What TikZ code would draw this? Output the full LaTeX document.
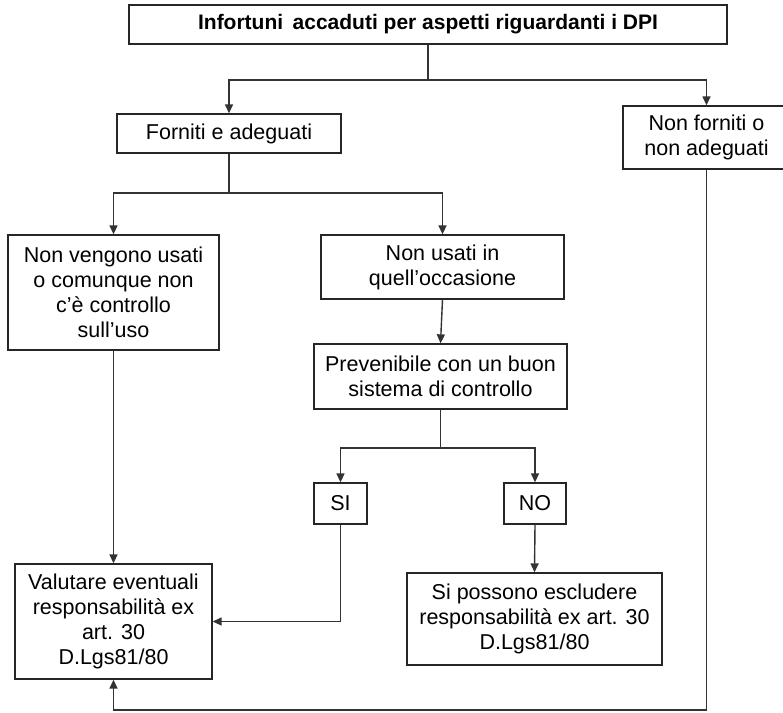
\documentclass[tikz,border=0pt]{standalone}
\usepackage{fontspec}
\setmainfont{Liberation Sans}
\usetikzlibrary{arrows.meta}

\tikzset{
  box/.style={draw=black!85, line width=1.3pt, fill=white, inner sep=0pt,
    align=center, font=\fontsize{21.5}{25}\selectfont},
  link/.style={draw=black!80, line width=1.4pt},
  arr/.style={link, -{Triangle[length=9pt,width=8pt]}}
}

\begin{document}
\begin{tikzpicture}[x=1pt, y=-1pt]
  \useasboundingbox (0,0) rectangle (783,712);

  % boxes
  \node[box, minimum width=598pt, minimum height=39pt,
        font=\fontsize{21}{25}\selectfont\bfseries]
    (title) at (428,24.5) {Infortuni\hspace{0.45em}accaduti per aspetti riguardanti i DPI};
  \node[box, minimum width=224pt, minimum height=39pt] (forn) at (229,133.5) {Forniti e adeguati};
  \node[box, minimum width=167pt, minimum height=63pt] (nonforn) at (706.5,137.5) {Non forniti o\\non adeguati};
  \node[box, minimum width=211pt, minimum height=115pt] (nonveng) at (113.5,292.5)
    {Non vengono usati\\o comunque non\\c’è controllo\\sull’uso};
  \node[box, minimum width=243pt, minimum height=64pt] (nonusati) at (442.5,267)
    {Non usati in\\quell’occasione};
  \node[box, minimum width=253pt, minimum height=65pt] (prev) at (440.5,376.5)
    {Prevenibile con un buon\\sistema di controllo};
  \node[box, minimum width=53pt, minimum height=41pt] (si) at (340.5,503.5) {SI};
  \node[box, minimum width=62pt, minimum height=41pt] (no) at (535,503.5) {NO};
  \node[box, minimum width=197pt, minimum height=115pt] (valut) at (113.5,621.5)
    {Valutare eventuali\\responsabilità ex\\art. 30\\D.Lgs81/80};
  \node[box, minimum width=255pt, minimum height=92pt] (sipos) at (534.5,619)
    {Si possono escludere\\responsabilità ex art. 30\\D.Lgs81/80};

  % junction points of the branching lines
  \coordinate (j1) at (428,80);
  \coordinate (j2) at (229,193);
  \coordinate (j3) at (440.5,448);
  \coordinate (j4) at (706.5,710);

  % connectors
  \draw[link] (title.south) -- (j1);
  \draw[arr] (j1) -| (forn.north);
  \draw[arr] (j1) -| (nonforn.north);

  \draw[link] (forn.south) -- (j2);
  \draw[arr] (j2) -| (nonveng.north);
  \draw[arr] (j2) -| (nonusati.north);

  \draw[arr] (nonusati.south) -- (prev.north);

  \draw[link] (prev.south) -- (j3);
  \draw[arr] (j3) -| (si.north);
  \draw[arr] (j3) -| (no.north);

  \draw[arr] (no.south) -- (sipos.north);
  \draw[arr] (si.south) |- (valut.east);
  \draw[arr] (nonveng.south) -- (valut.north);
  \draw[arr] (nonforn.south) -- (j4) -| (valut.south);
\end{tikzpicture}
\end{document}
